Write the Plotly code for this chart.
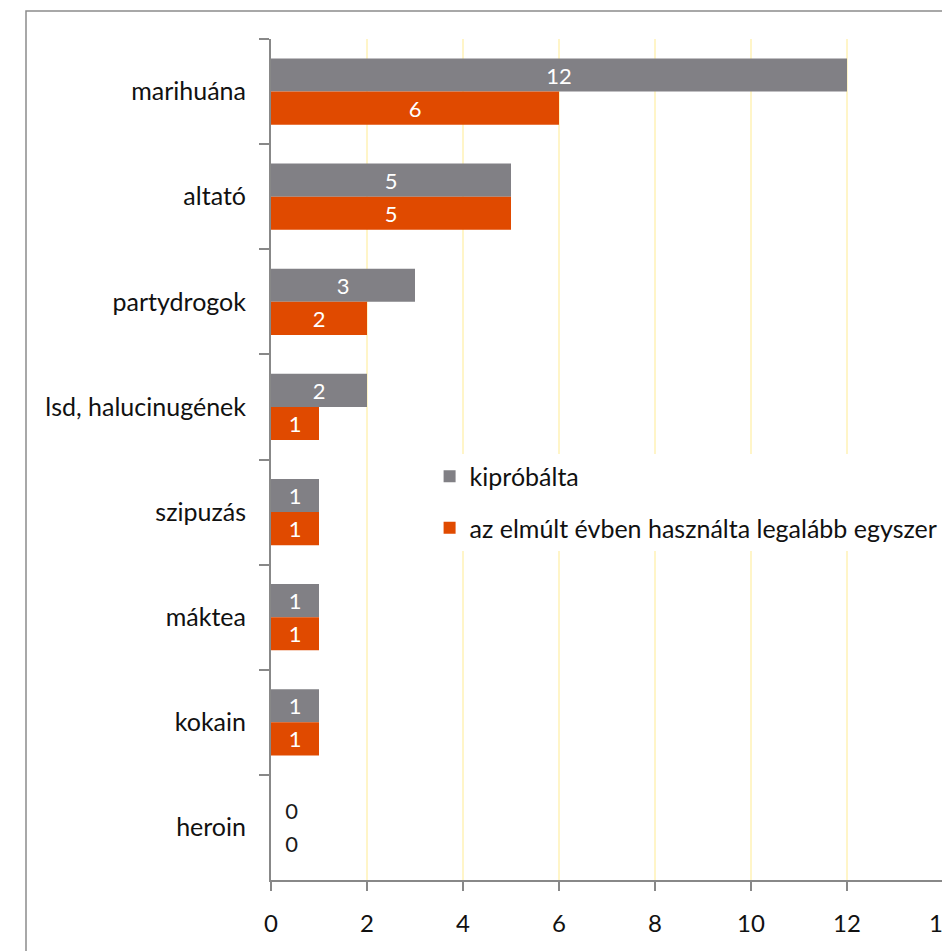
import plotly.graph_objects as go

categories = ["marihuána", "altató", "partydrogok", "lsd, halucinugének",
              "szipuzás", "máktea", "kokain", "heroin"]
tried = [12, 5, 3, 2, 1, 1, 1, 0]
last_year = [6, 5, 2, 1, 1, 1, 1, 0]
series_names = ["kipróbálta", "az elmúlt évben használta legalább egyszer"]
x_ticks = [0, 2, 4, 6, 8, 10, 12, 14]

GRAY = "#818085"
ORANGE = "#E04A00"
FONT = "Lato"


def text_pos(vals):
    return ["outside" if v == 0 else "inside" for v in vals]


def text_col(vals):
    return ["#1a1a1a" if v == 0 else "white" for v in vals]


def labels(vals):
    # zero values sit just right of the axis, nudged with no-break spaces
    return ["\u00a0\u00a0" + str(v) if v == 0 else str(v) for v in vals]


fig = go.Figure()
for name, vals, col, grp in [(series_names[0], tried, GRAY, "a"),
                             (series_names[1], last_year, ORANGE, "b")]:
    fig.add_trace(go.Bar(
        y=categories, x=vals, name=name, orientation="h",
        marker=dict(color=col, line=dict(width=0)),
        text=labels(vals), textposition=text_pos(vals), textangle=0,
        insidetextanchor="middle", constraintext="none",
        textfont=dict(family=FONT, size=22, color=text_col(vals)),
        legendgroup=grp, cliponaxis=False,
    ))

# the page body adds an 8px offset, margins are set to compensate
fig.update_layout(
    width=950, height=951,
    margin=dict(l=263, r=15, t=31, b=79),
    paper_bgcolor="white", plot_bgcolor="white",
    barmode="group", bargap=0.37, bargroupgap=0,
    font=dict(family=FONT, size=25, color="#111111"),
    legend=dict(x=0.236, y=0.507, xanchor="left", yanchor="top",
                bgcolor="white", traceorder="grouped", tracegroupgap=16,
                font=dict(size=25)),
    showlegend=True,
)
fig.update_xaxes(range=[0, 14], tickvals=x_ticks, showgrid=True,
                 gridcolor="#FFF5C8", gridwidth=2, zeroline=False,
                 showline=True, linecolor="#888888", linewidth=2,
                 ticks="outside", ticklen=9, tickcolor="#888888",
                 tickwidth=2, ticklabelstandoff=12, automargin=False,
                 ticklabeloverflow="allow", tickfont=dict(size=24))
fig.update_yaxes(autorange="reversed", showline=True, linecolor="#888888",
                 linewidth=2, ticks="outside", ticklen=10, tickcolor="#888888",
                 tickwidth=2, tickson="boundaries", showgrid=False,
                 ticklabelstandoff=18, automargin=False)

# outer chart border (extends off the canvas to the right and bottom)
fig.add_shape(type="rect", xref="paper", yref="paper",
              x0=(18 - 263) / 672, x1=1.2, y0=-0.2, y1=1 + (31 - 3) / 841,
              line=dict(color="#8c8c8c", width=1.5), layer="below")

fig.write_html("out.html")
